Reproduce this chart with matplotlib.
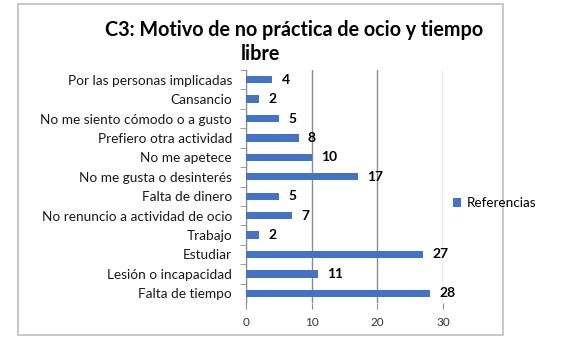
import matplotlib.pyplot as plt
from matplotlib.patches import Rectangle

categories = ['Por las personas implicadas', 'Cansancio', 'No me siento cómodo o a gusto',
              'Prefiero otra actividad', 'No me apetece', 'No me gusta o desinterés',
              'Falta de dinero', 'No renuncio a actividad de ocio', 'Trabajo', 'Estudiar',
              'Lesión o incapacidad', 'Falta de tiempo']
values = [4, 2, 5, 8, 10, 17, 5, 7, 2, 27, 11, 28]
x_ticks = [0, 10, 20, 30]
series_name = 'Referencias'
title_lines = ['C3: Motivo de no práctica de ocio y tiempo', 'libre']

plt.rcParams['font.family'] = ['Lato', 'DejaVu Sans']
bar_color = '#4472C4'
grid_color = '#8C8C8C'

W, H = 567, 345
fig = plt.figure(figsize=(W / 100, H / 100), dpi=100)

# chart frame
fig.patches.append(Rectangle((18 / W, 1 - 335 / H), (503 - 18) / W, (335 - 4) / H,
                             transform=fig.transFigure, fill=False,
                             edgecolor='#BFBFBF', linewidth=1.2))

ax = fig.add_axes([246 / W, 1 - 303 / H, (443 - 246) / W, (303 - 70) / H])
ypos = list(range(len(categories)))
ax.barh(ypos, values, height=0.38, color=bar_color, label=series_name, zorder=3)
ax.set_ylim(len(categories) - 0.5, -0.5)
ax.set_xlim(0, 30)

ax.set_yticks(ypos)
ax.set_yticklabels(categories, fontsize=9.8, color='#1a1a1a')
ax.tick_params(axis='y', length=0, pad=10)
ax.set_yticks([p + 0.5 for p in ypos[:-1]] + [-0.5], minor=True)
ax.tick_params(axis='y', which='minor', length=4, color=grid_color)

ax.set_xticks(x_ticks)
ax.set_xticklabels([str(t) for t in x_ticks], fontsize=8.5, color='#333333')
ax.tick_params(axis='x', length=4, color=grid_color, pad=6)
ax.grid(axis='x', color=grid_color, linewidth=1, zorder=0)

for s in ['top', 'right']:
    ax.spines[s].set_visible(False)
for s in ['left', 'bottom']:
    ax.spines[s].set_color(grid_color)
ax.spines['bottom'].set_visible(False)

for y, v in zip(ypos, values):
    ax.text(v + 1.4, y, str(v), va='center', ha='left', fontsize=10,
            fontweight='bold', color='black', zorder=4)

fig.text(294 / W, 1 - 30 / H, title_lines[0], ha='center', va='center',
         fontsize=14.2, fontweight='bold', color='black')
fig.text(260 / W, 1 - 54 / H, title_lines[1], ha='center', va='center',
         fontsize=14.2, fontweight='bold', color='black')

fig.legend(loc='center left', bbox_to_anchor=(453 / W, 1 - 203 / H), frameon=False,
           fontsize=9.7, handlelength=0.6, handleheight=0.6, handletextpad=0.4,
           borderpad=0, borderaxespad=0)

fig.savefig('out.png', dpi=100)
